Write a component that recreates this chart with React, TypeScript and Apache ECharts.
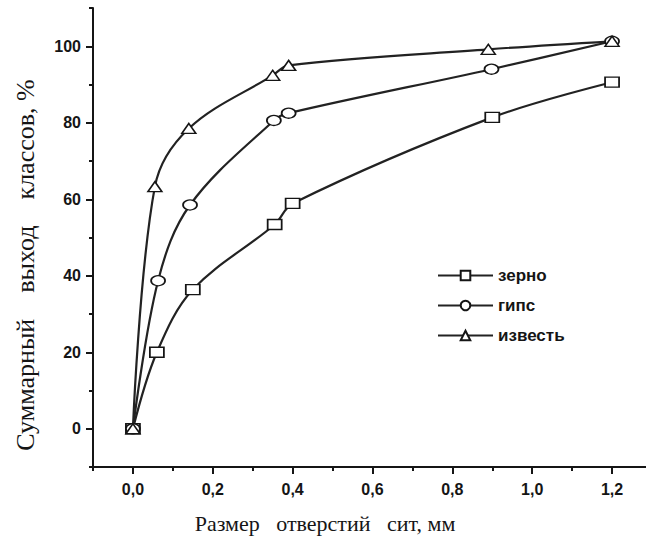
import React, { useEffect, useRef } from 'react';
import * as echarts from 'echarts';

const seriesNames = ['зерно', 'гипс', 'известь'];
const zernoX = [0, 0.06, 0.15, 0.355, 0.4, 0.9, 1.2];
const zernoY = [0, 20, 36.4, 53.4, 58.9, 81.4, 90.6];
const gipsX = [0, 0.063, 0.143, 0.353, 0.39, 0.898, 1.2];
const gipsY = [0, 38.7, 58.5, 80.6, 82.5, 94, 101.3];
const izvestX = [0, 0.055, 0.14, 0.35, 0.39, 0.89, 1.2];
const izvestY = [0, 63.3, 78.5, 92.4, 95, 99.2, 101.3];

const xMajorTicks = [0, 0.2, 0.4, 0.6, 0.8, 1.0, 1.2];
const xMinorTicks = [-0.1, 0.1, 0.3, 0.5, 0.7, 0.9, 1.1];
const yMajorTicks = [0, 20, 40, 60, 80, 100];
const yMinorTicks = [-10, 10, 30, 50, 70, 90, 110];

const xTitle = 'Размер   отверстий   сит, мм';
const yTitle = 'Суммарный    выход    классов, %';

const zip = (xs: number[], ys: number[]) => xs.map((x, i) => [x, ys[i]]);

export default function App() {
  const ref = useRef<HTMLDivElement>(null);
  useEffect(() => {
    document.body.style.margin = '0';
    const chart = echarts.init(ref.current!, undefined, { renderer: 'svg' });
    const ink = '#151515';
    const sans = '"Liberation Sans", Arial, sans-serif';
    const serif = '"Liberation Serif", "Times New Roman", serif';
    const baseX = {
      type: 'value' as const,
      min: -0.1,
      max: 1.285,
      position: 'bottom' as const,
      splitLine: { show: false },
    };
    const baseY = {
      type: 'value' as const,
      min: -10,
      max: 110,
      position: 'left' as const,
      splitLine: { show: false },
    };
    const mk = (name: string, xs: number[], ys: number[], symbol: string) => ({
      name,
      type: 'line',
      data: zip(xs, ys),
      smooth: 0.35,
      symbol,
      symbolSize: [14, 10],
      showAllSymbol: true,
      lineStyle: { color: '#222', width: 2.2 },
      itemStyle: { color: '#fff', borderColor: ink, borderWidth: 1.5 },
      xAxisIndex: 0,
      yAxisIndex: 0,
    });
    chart.setOption({
      animation: false,
      backgroundColor: '#fff',
      grid: { left: 93, right: 0, top: 8, bottom: 76, containLabel: false },
      xAxis: [
        {
          ...baseX,
          axisLine: { show: true, onZero: false, lineStyle: { color: ink, width: 2 } },
          axisTick: { show: true, customValues: xMajorTicks, length: 7, lineStyle: { color: ink, width: 2 } },
          axisLabel: {
            show: true,
            customValues: xMajorTicks,
            formatter: (v: number) => v.toFixed(1).replace('.', ','),
            fontSize: 16,
            fontWeight: 'bold',
            fontFamily: sans,
            color: ink,
            margin: 14,
          },
        },
        {
          ...baseX,
          axisLine: { show: false, onZero: false },
          axisTick: { show: true, customValues: xMinorTicks, length: 4, lineStyle: { color: ink, width: 2 } },
          axisLabel: { show: false },
        },
      ],
      yAxis: [
        {
          ...baseY,
          axisLine: { show: true, onZero: false, lineStyle: { color: ink, width: 2 } },
          axisTick: { show: true, customValues: yMajorTicks, length: 7, lineStyle: { color: ink, width: 2 } },
          axisLabel: {
            show: true,
            customValues: yMajorTicks,
            fontSize: 16,
            fontWeight: 'bold',
            fontFamily: sans,
            color: ink,
            margin: 12,
          },
        },
        {
          ...baseY,
          axisLine: { show: false, onZero: false },
          axisTick: { show: true, customValues: yMinorTicks, length: 4, lineStyle: { color: ink, width: 2 } },
          axisLabel: { show: false },
        },
      ],
      legend: {
        data: seriesNames,
        orient: 'vertical',
        left: 432,
        top: 262,
        itemWidth: 55,
        itemHeight: 12,
        itemGap: 13,
        textStyle: { fontSize: 17, fontWeight: 'bold', fontFamily: sans, color: ink },
      },
      graphic: [
        {
          type: 'text',
          x: 325,
          y: 523,
          style: {
            text: xTitle,
            fontSize: 22,
            fontFamily: serif,
            fill: ink,
            textAlign: 'center',
            textVerticalAlign: 'middle',
          },
        },
        {
          type: 'text',
          x: 25,
          y: 265,
          rotation: Math.PI / 2,
          style: {
            text: yTitle,
            fontSize: 26,
            fontFamily: serif,
            fill: ink,
            textAlign: 'center',
            textVerticalAlign: 'middle',
          },
        },
      ],
      series: [
        mk(seriesNames[0], zernoX, zernoY, 'rect'),
        mk(seriesNames[1], gipsX, gipsY, 'circle'),
        mk(seriesNames[2], izvestX, izvestY, 'triangle'),
      ],
    });
    return () => chart.dispose();
  }, []);
  return <div ref={ref} style={{ width: 646, height: 543 }} />;
}
